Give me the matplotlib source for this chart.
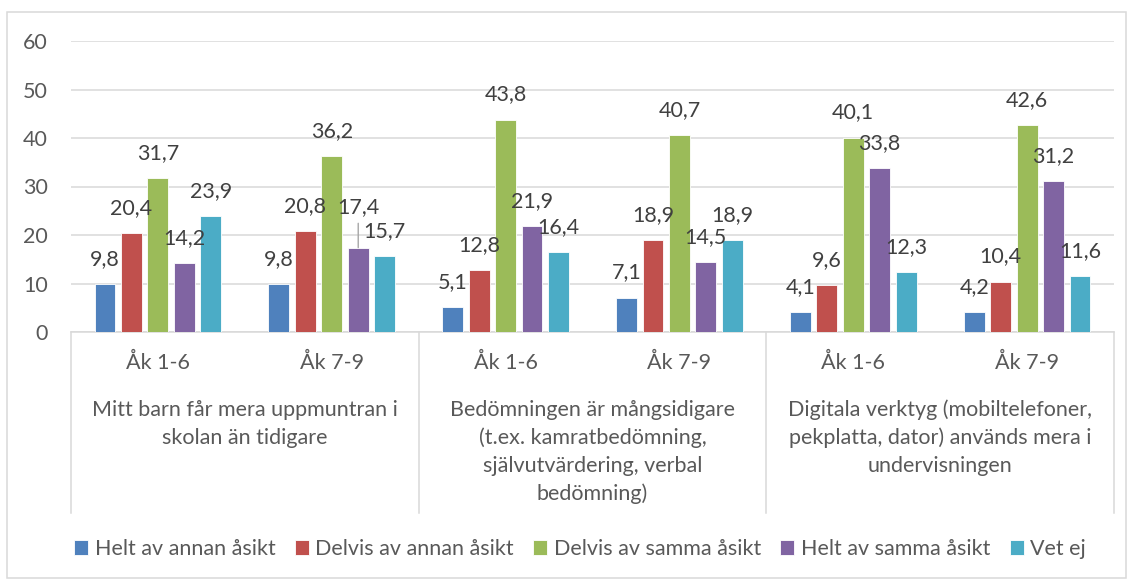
import matplotlib
matplotlib.use("Agg")
import matplotlib.pyplot as plt
import numpy as np
from matplotlib.patches import Rectangle

plt.rcParams['font.family'] = ['Lato', 'DejaVu Sans']

groups = ["Mitt barn får mera uppmuntran i\nskolan än tidigare",
          "Bedömningen är mångsidigare\n(t.ex. kamratbedömning,\nsjälvutvärdering, verbal\nbedömning)",
          "Digitala verktyg (mobiltelefoner,\npekplatta, dator) används mera i\nundervisningen"]
subgroups = ["Åk 1-6", "Åk 7-9"]
series = ["Helt av annan åsikt", "Delvis av annan åsikt", "Delvis av samma åsikt",
          "Helt av samma åsikt", "Vet ej"]
helt_annan = [9.8, 9.8, 5.1, 7.1, 4.1, 4.2]
delvis_annan = [20.4, 20.8, 12.8, 18.9, 9.6, 10.4]
delvis_samma = [31.7, 36.2, 43.8, 40.7, 40.1, 42.6]
helt_samma = [14.2, 17.4, 21.9, 14.5, 33.8, 31.2]
vet_ej = [23.9, 15.7, 16.4, 18.9, 12.3, 11.6]
values = [helt_annan, delvis_annan, delvis_samma, helt_samma, vet_ej]
colors = ["#4F81BD", "#C0504D", "#9BBB59", "#8064A2", "#4BACC6"]

W, H = 1133, 581
fig = plt.figure(figsize=(W / 100, H / 100), dpi=100)
ax = fig.add_axes([71 / W, 1 - 332 / H, (1114 - 71) / W, (332 - 41) / H])

grid_c = "#D9D9D9"
txt_c = "#595959"
lab_c = "#404040"
fs = 15.5

n = len(helt_annan)
x = np.arange(n)
step = 0.1523
width = 0.12
for k, (vals, col, name) in enumerate(zip(values, colors, series)):
    pos = x + (k - 2) * step
    ax.bar(pos, vals, width=width, color=col, edgecolor="white", linewidth=0.6,
           label=name, zorder=3)
    for j, (p, v) in enumerate(zip(pos, vals)):
        if k == 3 and j == 1:
            ax.annotate(f"{v:.1f}".replace(".", ","), xy=(p, v), xytext=(0, 29.5),
                        textcoords="offset points", ha="center", va="center",
                        fontsize=fs, color=lab_c, zorder=5)
            ax.annotate("", xy=(p, v), xytext=(0, 17.5),
                        textcoords="offset points",
                        arrowprops=dict(arrowstyle="-", color="#A6A6A6", lw=1,
                                        shrinkA=0, shrinkB=0), zorder=4)
        else:
            ax.annotate(f"{v:.1f}".replace(".", ","), xy=(p, v), xytext=(0, 18),
                        textcoords="offset points", ha="center", va="center",
                        fontsize=fs, color=lab_c, zorder=5)

ax.set_xlim(-0.5, n - 0.5)
ax.set_ylim(0, 60)
ax.set_yticks(range(0, 61, 10))
ax.tick_params(axis="y", length=0, pad=16.5, labelsize=fs, labelcolor=txt_c)
ax.set_xticks([])
ax.grid(axis="y", color=grid_c, linewidth=1.1, zorder=0)
for s in ["top", "right", "left"]:
    ax.spines[s].set_visible(False)
ax.spines["bottom"].set_color(grid_c)
ax.spines["bottom"].set_linewidth(1.1)

ah = 332 - 41
trans = ax.get_xaxis_transform()
for i in range(n):
    ax.text(i, -31 / ah, subgroups[i % 2], transform=trans, ha="center", va="center",
            fontsize=fs, color=txt_c)
for g, label in enumerate(groups):
    cx = 2 * g + 0.5
    for li, line in enumerate(label.split("\n")):
        ax.text(cx, -(78 + 28 * li) / ah, line, transform=trans, ha="center",
                va="center", fontsize=fs, color=txt_c)
for sx in [-0.5, 1.5, 3.5, 5.5]:
    ax.plot([sx, sx], [0, -(513 - 332) / ah], transform=trans, color=grid_c,
            lw=1.1, clip_on=False, zorder=1)

fig.patches.append(Rectangle((7 / W, 1 - 578 / H), (1126 - 7) / W, (578 - 12) / H,
                             transform=fig.transFigure, fill=False,
                             edgecolor=grid_c, lw=1.1))

handles, labels = ax.get_legend_handles_labels()
leg = fig.legend(handles, labels, loc="center", bbox_to_anchor=(580 / W, 1 - 549 / H),
                 ncol=5, frameon=False, fontsize=fs, handlelength=0.65,
                 handleheight=0.65, handletextpad=0.3, columnspacing=0.9,
                 labelcolor=txt_c)

fig.savefig("out.png", dpi=100)
